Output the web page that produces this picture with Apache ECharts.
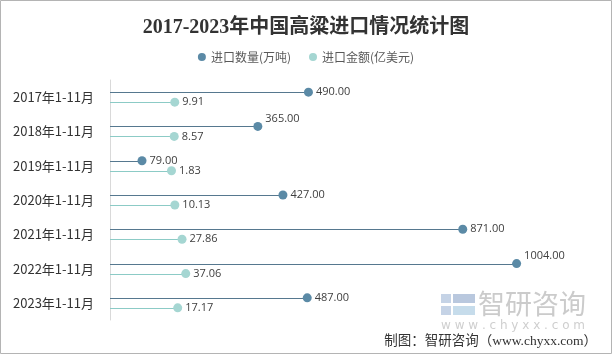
<!DOCTYPE html>
<html>
<head>
<meta charset="utf-8">
<style>
html,body{margin:0;padding:0;background:#fff;}
#chart{width:612px;height:355px;}
</style>
<script src="https://cdn.jsdelivr.net/npm/echarts@6/dist/echarts.min.js"></script>
</head>
<body>
<div id="chart"></div>
<script>
var categories = ['2017年1-11月','2018年1-11月','2019年1-11月','2020年1-11月','2021年1-11月','2022年1-11月','2023年1-11月'];
var quantity = [490, 365, 79, 427, 871, 1004, 487];
var amount = [9.91, 8.57, 1.83, 10.13, 27.86, 37.06, 17.17];
var seriesNames = ['进口数量(万吨)', '进口金额(亿美元)'];
var liftedLabels = [1, 5];

var qColor = '#5b8aa6', qLine = '#56788f';
var aColor = '#a5d6d2', aLine = '#8ccbc6';
var OFF = 5;

function pairs(arr){ return arr.map(function(v,i){ return [v,i]; }); }

function lineRender(offset, color){
  return function(params, api){
    var end = api.coord([api.value(0), api.value(1)]);
    var y = Math.round(end[1] + offset) + 0.5;
    return {
      type: 'line',
      shape: {x1: params.coordSys.x, y1: y, x2: end[0], y2: y},
      style: {stroke: color, lineWidth: 1}
    };
  };
}

var chart = echarts.init(document.getElementById('chart'));
var qData = quantity.map(function(v,i){
  var d = {value:[v,i]};
  if (liftedLabels.indexOf(i) >= 0) d.label = {offset:[0,-8]};
  return d;
});
chart.setOption({
  animation: false,
  title: {
    text: '2017-2023年中国高粱进口情况统计图',
    left: 'center', top: 13,
    textStyle: {fontFamily: '"Liberation Serif","Noto Sans CJK SC",serif', fontSize: 20, fontWeight: 'bold', color: '#333'}
  },
  legend: {
    data: seriesNames,
    top: 46, left: 'center',
    icon: 'circle', itemWidth: 8, itemHeight: 8, itemGap: 18,
    textStyle: {fontFamily: '"Noto Sans CJK SC",sans-serif', fontSize: 12, color: '#595959'}
  },
  grid: {left: 110, right: 16, top: 80, bottom: 35},
  xAxis: [
    {type: 'value', min: 0, max: 1200, show: false},
    {type: 'value', min: -150, max: 1050, show: false}
  ],
  yAxis: {
    type: 'category', data: categories, inverse: true,
    axisLine: {show: true, lineStyle: {color: '#d9d9d9'}},
    axisTick: {show: false},
    axisLabel: {margin: 16, fontSize: 13, color: '#333', fontFamily: '"Noto Sans CJK SC",sans-serif'}
  },
  series: [
    {type: 'custom', xAxisIndex: 0, renderItem: lineRender(-OFF, qLine), data: pairs(quantity), encode:{x:0,y:1}, silent:true, z:1},
    {type: 'custom', xAxisIndex: 1, renderItem: lineRender(OFF, aLine), data: pairs(amount), encode:{x:0,y:1}, silent:true, z:1},
    {
      name: seriesNames[0], type: 'scatter', xAxisIndex: 0,
      data: qData, symbolSize: 9, symbolOffset: [0, -OFF],
      itemStyle: {color: qColor, opacity: 1},
      label: {show: true, position: 'right', distance: 3,
        formatter: function(p){ return p.value[0].toFixed(2); },
        fontSize: 11, color: '#404040', fontFamily: '"Open Sans",sans-serif'},
      z: 3
    },
    {
      name: seriesNames[1], type: 'scatter', xAxisIndex: 1,
      data: pairs(amount), symbolSize: 9, symbolOffset: [0, OFF],
      itemStyle: {color: aColor, opacity: 1},
      label: {show: true, position: 'right', distance: 3,
        formatter: function(p){ return p.value[0].toFixed(2); },
        fontSize: 11, color: '#404040', fontFamily: '"Open Sans",sans-serif'},
      z: 3
    }
  ],
  graphic: [
    {type:'rect', shape:{x:0.5,y:0.5,width:611,height:353}, style:{fill:'none', stroke:'#b4b4b4', lineWidth:1}, silent:true},
    {type:'rect', shape:{x:441,y:294,width:10,height:9}, style:{fill:'#c5d3e6'}, silent:true},
    {type:'rect', shape:{x:453,y:294,width:22,height:9}, style:{fill:'#b9c8de'}, silent:true},
    {type:'rect', shape:{x:441,y:306,width:10,height:9}, style:{fill:'#c5d3e6'}, silent:true},
    {type:'rect', shape:{x:453,y:306,width:22,height:9}, style:{fill:'#c6dceb'}, silent:true},
    {type:'text', left:478, top:290, style:{text:'智研咨询', font:'27px "Noto Sans CJK SC", sans-serif', fill:'#cbcbcb'}, silent:true},
    {type:'text', left:441, top:320, style:{text:'w w w . c h y x x . c o m', font:'12px "DejaVu Sans", sans-serif', fill:'#cfcfcf'}, silent:true},
    {type:'text', right:15, top:335, style:{text:'制图：智研咨询（www.chyxx.com）', font:'13.5px "Liberation Serif","Noto Sans CJK SC", serif', fill:'#333'}, silent:true}
  ]
});
</script>
</body>
</html>
